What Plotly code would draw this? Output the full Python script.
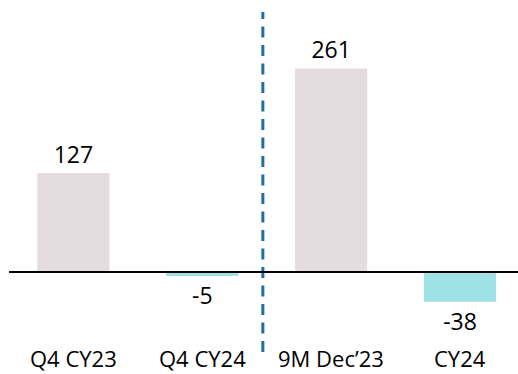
import plotly.graph_objects as go

categories = ["Q4 CY23", "Q4 CY24", "9M Dec\u201923", "CY24"]
values = [127, -5, 261, -38]
labels = ["127", "-5", "261", "-38"]

POS_COLOR = "#E5DCDF"
NEG_COLOR = "#9FE2E6"
colors = [POS_COLOR if v >= 0 else NEG_COLOR for v in values]

W, H = 518, 374
ml, mr, mt, mb = 9, 0, 0, 22
x_range = [-0.5, 3.45]
px_per_unit = 0.78
zero_px_from_top = 272
plot_h = H - mt - mb
y_top = (zero_px_from_top - mt) / px_per_unit
y_bot = -(plot_h - (zero_px_from_top - mt)) / px_per_unit

fig = go.Figure()
fig.add_trace(go.Bar(
    x=list(range(len(categories))), y=values, marker_color=colors,
    marker_line_width=0, width=0.56,
    text=labels, textposition="outside", cliponaxis=False,
    textfont=dict(family="Open Sans", size=23, color="#000000"),
))

for i, cat in enumerate(categories):
    fig.add_annotation(x=i, xref="x", y=0, yref="paper", yanchor="middle",
                       yshift=-6, text=cat, showarrow=False, borderpad=0,
                       font=dict(family="Open Sans", size=22, color="#000000"))

sep_x = 1.47
fig.add_shape(type="line", xref="x", yref="paper", x0=sep_x, x1=sep_x,
              y0=0.0, y1=(plot_h - 12) / plot_h,
              line=dict(color="#1F6EA5", width=3, dash="11px,7.5px"))
fig.add_shape(type="line", xref="paper", yref="y", x0=0, x1=1, y0=0, y1=0,
              line=dict(color="#000000", width=2))

fig.update_layout(
    width=W, height=H, margin=dict(l=ml, r=mr, t=mt, b=mb, autoexpand=False),
    paper_bgcolor="white", plot_bgcolor="white", showlegend=False,
    xaxis=dict(range=x_range, showticklabels=False, showgrid=False, zeroline=False,
               showline=False, automargin=False, ticks=""),
    yaxis=dict(range=[y_bot, y_top], visible=False, automargin=False),
    font=dict(family="Open Sans"),
)
fig.write_html("out.html")
